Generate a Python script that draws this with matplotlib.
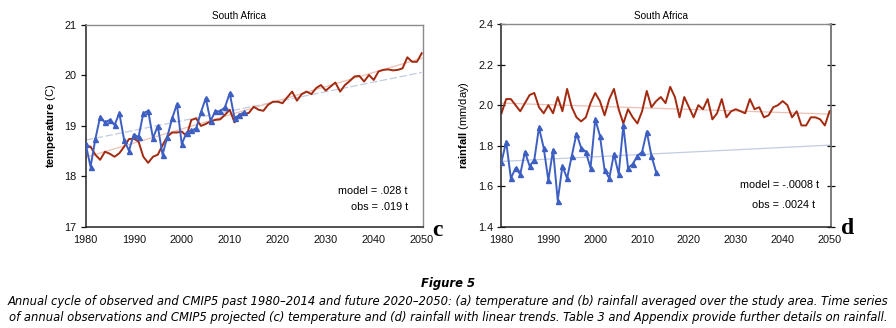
import matplotlib
matplotlib.use("Agg")
import matplotlib.pyplot as plt
from matplotlib import font_manager
from matplotlib.font_manager import FontProperties
import numpy as np

plt.rcParams['font.family'] = ['Liberation Sans', 'DejaVu Sans']
plt.rcParams['mathtext.fontset'] = 'custom'
plt.rcParams['mathtext.bf'] = 'Liberation Sans:bold'
plt.rcParams['mathtext.rm'] = 'Liberation Sans'

# ---------------- data ----------------
obs_years = list(range(1980, 2014))
model_years = list(range(1980, 2051))

temp_obs = [18.64, 18.19, 18.74, 19.18, 19.07, 19.12, 19.02, 19.25, 18.72, 18.51,
            18.83, 18.78, 19.25, 19.30, 18.76, 19.00, 18.43, 18.79, 19.15, 19.43,
            18.64, 18.87, 18.91, 18.95, 19.27, 19.55, 19.10, 19.29, 19.29, 19.37,
            19.65, 19.15, 19.22, 19.27]

temp_model = [18.61, 18.59, 18.43, 18.33, 18.49, 18.45, 18.39, 18.46, 18.59, 18.74,
              18.75, 18.69, 18.39, 18.27, 18.39, 18.43, 18.62, 18.79, 18.87, 18.87,
              18.89, 18.80, 19.12, 19.15, 19.00, 19.04, 19.09, 19.12, 19.13, 19.22,
              19.32, 19.07, 19.19, 19.23, 19.26, 19.38, 19.32, 19.30, 19.42, 19.48,
              19.48, 19.45, 19.57, 19.68, 19.50, 19.63, 19.68, 19.63, 19.75, 19.81,
              19.70, 19.78, 19.86, 19.68, 19.81, 19.89, 19.98, 19.99, 19.88, 20.01,
              19.91, 20.08, 20.11, 20.12, 20.10, 20.11, 20.14, 20.36, 20.27, 20.27,
              20.44]

rain_obs = [1.72, 1.82, 1.64, 1.69, 1.66, 1.77, 1.70, 1.73, 1.89, 1.79,
            1.63, 1.78, 1.53, 1.70, 1.64, 1.75, 1.86, 1.79, 1.77, 1.69,
            1.93, 1.85, 1.68, 1.64, 1.76, 1.66, 1.90, 1.69, 1.71, 1.75,
            1.77, 1.87, 1.75, 1.67]

rain_model = [1.96, 2.03, 2.03, 2.00, 1.97, 2.01, 2.05, 2.06, 1.99, 1.96,
              2.00, 1.96, 2.04, 1.97, 2.08, 1.99, 1.94, 1.92, 1.94, 2.01,
              2.06, 2.02, 1.95, 2.03, 2.08, 1.98, 1.91, 1.98, 1.94, 1.91,
              1.97, 2.07, 1.99, 2.02, 2.04, 2.01, 2.09, 2.04, 1.94, 2.04,
              1.99, 1.94, 2.00, 1.98, 2.03, 1.93, 1.96, 2.03, 1.94, 1.97,
              1.98, 1.97, 1.96, 2.03, 1.98, 1.99, 1.94, 1.95, 1.99, 2.00,
              2.02, 2.00, 1.94, 1.97, 1.90, 1.90, 1.94, 1.94, 1.93, 1.90,
              1.97]

trend_years = [1980, 2050]
temp_obs_trend = [18.72, 20.06]
temp_model_trend = [18.38, 20.34]
rain_obs_trend = [1.723, 1.803]
rain_model_trend = [2.01, 1.956]

x_ticks = [1980, 1990, 2000, 2010, 2020, 2030, 2040, 2050]
temp_ticks = [17, 18, 19, 20, 21]
rain_ticks = [1.4, 1.6, 1.8, 2.0, 2.2, 2.4]

caption_title = 'Figure 5'
caption_lines = [
    'Annual cycle of observed and CMIP5 past 1980\u20132014 and future 2020\u20132050: (a) temperature and (b) rainfall averaged over the study area. Time series',
    'of annual observations and CMIP5 projected (c) temperature and (d) rainfall with linear trends. Table 3 and Appendix provide further details on rainfall.',
]

BLUE = '#3d5fc2'
RED = '#a3290f'
LBLUE = '#c2cbe2'
LRED = '#ecc0b4'

fig = plt.figure(figsize=(8.96, 3.28), dpi=100)

def style(ax, ylim, yticks, yfmt, right_ticks):
    ax.set_xlim(1980, 2050.3)
    ax.set_ylim(*ylim)
    ax.set_xticks(x_ticks)
    ax.set_yticks(yticks)
    ax.set_yticklabels([yfmt.format(v) for v in yticks])
    ax.tick_params(axis='x', length=0, pad=6, labelsize=7.8, colors='#111111')
    ax.tick_params(axis='y', length=3.5, width=0.9, pad=3, labelsize=7.8,
                   colors='#111111', direction='out')
    if right_ticks:
        ax.tick_params(axis='y', right=True, direction='inout', length=6)
    for s in ['top', 'right']:
        ax.spines[s].set_color('#8a8a8a')
        ax.spines[s].set_linewidth(1.0)
    for s in ['left', 'bottom']:
        ax.spines[s].set_color('#222222')
        ax.spines[s].set_linewidth(1.1)
    if right_ticks:
        ax.spines['right'].set_color('#666666')
        ax.spines['right'].set_linewidth(1.2)

# ---------------- panel c ----------------
ax1 = fig.add_axes([0.0957, 0.308, 0.3766, 0.616])
ax1.plot(trend_years, temp_obs_trend, color=LBLUE, lw=0.9, ls=(0, (6, 2)), zorder=1)
ax1.plot(trend_years, temp_model_trend, color=LRED, lw=0.9, zorder=1)
ax1.plot(model_years, temp_model, color=RED, lw=1.4, zorder=2)
ax1.plot(obs_years, temp_obs, color=BLUE, lw=1.4, marker='^', ms=3.6, zorder=3)
style(ax1, (17, 21), temp_ticks, '{:g}', False)
ax1.set_ylabel(r'$\bf{temperature}$ (C)', fontsize=8, labelpad=5)
ax1.text(0.955, 0.18, 'model = .028 t', transform=ax1.transAxes, ha='right',
         va='center', fontsize=7.8)
ax1.text(0.955, 0.10, 'obs = .019 t', transform=ax1.transAxes, ha='right',
         va='center', fontsize=7.8)
fig.text(239 / 896, 1 - 16 / 328, 'South Africa', ha='center', va='center', fontsize=7.2)
fig.text(437 / 896, 1 - 231 / 328, 'c', ha='center', va='center', fontsize=17,
         fontweight='bold', family='Liberation Serif')

# ---------------- panel d ----------------
ax2 = fig.add_axes([0.5597, 0.308, 0.3677, 0.619])
ax2.plot(trend_years, rain_obs_trend, color=LBLUE, lw=0.9, zorder=1)
ax2.plot(trend_years, rain_model_trend, color=LRED, lw=0.9, zorder=1)
ax2.plot(model_years, rain_model, color=RED, lw=1.4, zorder=2)
ax2.plot(obs_years, rain_obs, color=BLUE, lw=1.4, marker='^', ms=3.6, zorder=3)
style(ax2, (1.4, 2.4), rain_ticks, '{:.1f}', True)
ax2.set_ylabel(r'$\bf{rainfall}$ (mm/day)', fontsize=8, labelpad=5)
ax2.text(0.965, 0.205, 'model = -.0008 t', transform=ax2.transAxes, ha='right',
         va='center', fontsize=7.8)
ax2.text(0.953, 0.11, 'obs = .0024 t', transform=ax2.transAxes, ha='right',
         va='center', fontsize=7.8)
fig.text(661 / 896, 1 - 16 / 328, 'South Africa', ha='center', va='center', fontsize=7.2)
fig.text(848 / 896, 1 - 229 / 328, 'd', ha='center', va='center', fontsize=17,
         fontweight='bold', family='Liberation Serif')

# ---------------- caption ----------------
# look for an installed condensed / narrow sans italic face; otherwise fall back
def find_face(bold):
    cands = []
    for f in font_manager.fontManager.ttflist:
        nm = f.name.lower()
        fn = f.fname.lower()
        if 'serif' in nm or 'mono' in nm or 'serif' in fn.replace('sans', '') or 'mono' in fn:
            continue
        st = str(f.stretch).lower()
        narrow = ('narrow' in nm or 'condensed' in nm or 'condensed' in st
                  or 'narrow' in fn or 'condensed' in fn
                  or (isinstance(f.stretch, int) and f.stretch < 500))
        if not narrow or f.style not in ('italic', 'oblique'):
            continue
        w = f.weight if isinstance(f.weight, int) else (700 if 'bold' in str(f.weight) else 400)
        target = 700 if bold else 400
        cands.append((abs(w - target), fn, f.fname))
    if cands:
        cands.sort()
        return FontProperties(fname=cands[0][2])
    return FontProperties(family=['Liberation Sans', 'DejaVu Sans'], style='italic',
                          weight='bold' if bold else 'normal')

cap_fp = find_face(False)
title_fp = find_face(True)

renderer = fig.canvas.get_renderer()
target_w = 880.0
texts = []
for i, line in enumerate(caption_lines):
    y = 1 - (301 + 17 * i) / 328
    t = fig.text(0.5, y, line, ha='center', va='center', fontproperties=cap_fp.copy())
    t.set_fontsize(9)
    texts.append(t)
w = max(t.get_window_extent(renderer).width for t in texts)
size = min(9.5, 9 * target_w / w)
for t in texts:
    t.set_fontsize(size)

fig.text(0.5, 1 - 283 / 328, caption_title, ha='center', va='center',
         fontproperties=title_fp.copy(), fontsize=max(size, 8.5))

fig.savefig('out.png', dpi=100)
